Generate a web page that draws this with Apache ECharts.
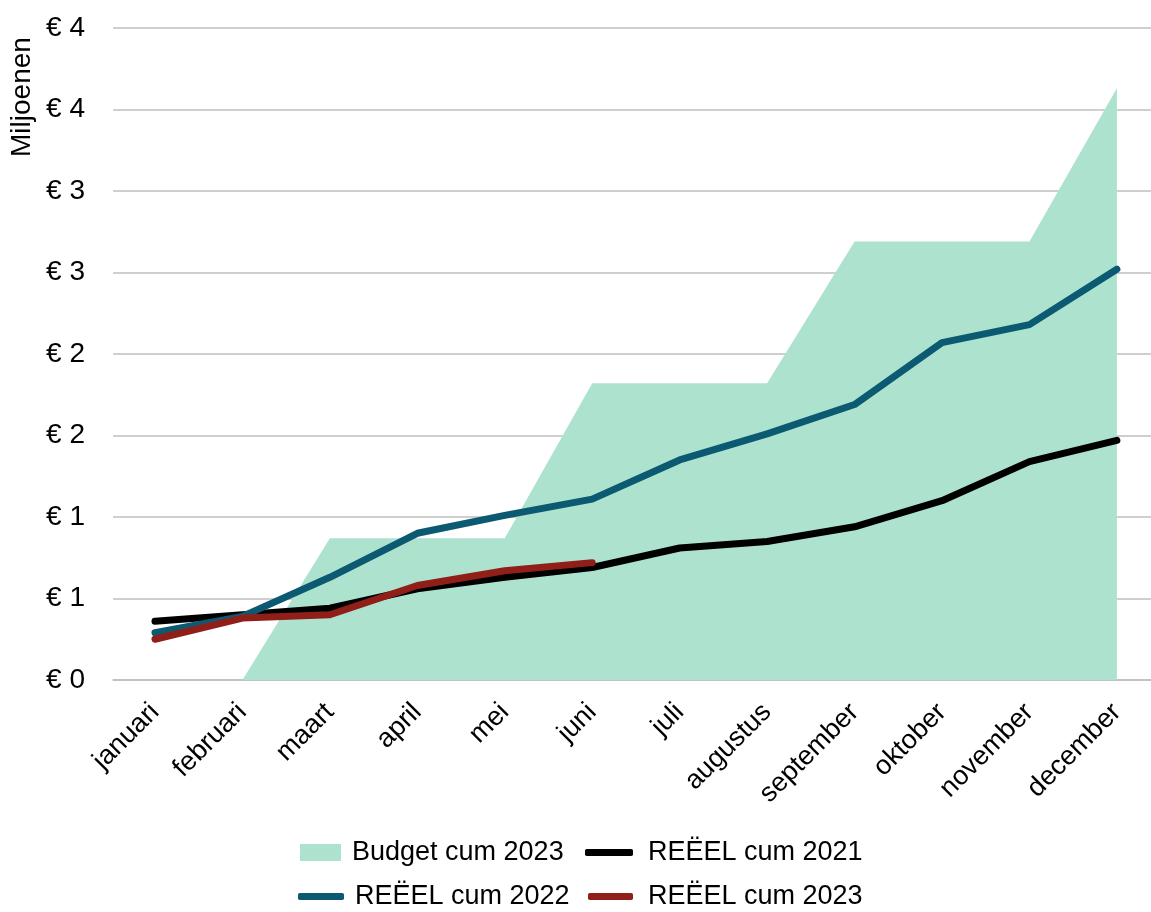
<!DOCTYPE html>
<html>
<head>
<meta charset="utf-8">
<script src="https://cdn.jsdelivr.net/npm/echarts@6/dist/echarts.min.js"></script>
<style>
html,body{margin:0;padding:0;background:#fff;}
#chart{width:1151px;height:912px;}
</style>
</head>
<body>
<div id="chart"></div>
<script>
const months = ['januari','februari','maart','april','mei','juni','juli','augustus','september','oktober','november','december'];
const budget2023 = [null, 0, 0.87, 0.87, 0.87, 1.82, 1.82, 1.82, 2.69, 2.69, 2.69, 3.63];
const reeel2021 = [0.36, 0.40, 0.44, 0.56, 0.63, 0.69, 0.81, 0.85, 0.94, 1.10, 1.34, 1.47];
const reeel2022 = [0.29, 0.39, 0.63, 0.90, 1.01, 1.11, 1.35, 1.51, 1.69, 2.07, 2.18, 2.52];
const reeel2023 = [0.25, 0.38, 0.40, 0.58, 0.67, 0.72];
const yTicks = [0, 0.5, 1, 1.5, 2, 2.5, 3, 3.5, 4];

const FONT = 'Liberation Sans';
const C_BUDGET = '#ADE2CF', C_2021 = '#000000', C_2022 = '#0B5A72', C_2023 = '#901F1A';
const toPairs = arr => arr.map((v, i) => [i, v]).filter(p => p[1] !== null && p[1] !== undefined);

const chart = echarts.init(document.getElementById('chart'));
const lineSeries = (name, data, color) => ({
  name, type: 'line', data: toPairs(data), symbol: 'none', smooth: false,
  lineStyle: {color, width: 7, cap: 'round', join: 'round'},
  itemStyle: {color}
});
const legendItem = (name, icon, left, top, w, h, pad) => ({
  data: [{name, icon}], left, top, itemWidth: w, itemHeight: h, padding: 0,
  textStyle: {fontSize: 27, color: '#000', fontFamily: FONT, padding: [0, 0, 0, pad]}
});
chart.setOption({
  animation: false,
  textStyle: {fontFamily: FONT},
  grid: {left: 113, right: 0, top: 28, bottom: 232, containLabel: false},
  xAxis: {
    type: 'value', min: -0.48, max: 11.39,
    splitLine: {show: false},
    axisLine: {show: true, onZero: false, lineStyle: {color: '#bfbfbf', width: 1.5}},
    axisTick: {show: false},
    axisLabel: {
      customValues: months.map((m, i) => i),
      rotate: 45, fontSize: 27, color: '#000', margin: 28, fontFamily: FONT,
      formatter: v => months[Math.round(v)] || ''
    }
  },
  yAxis: {
    type: 'value', min: yTicks[0], max: yTicks[yTicks.length - 1], interval: 0.5,
    axisLine: {show: false}, axisTick: {show: false},
    splitLine: {lineStyle: {color: '#bfbfbf', width: 1.5}},
    axisLabel: {fontSize: 28, color: '#000', margin: 28, fontFamily: FONT,
      formatter: v => '€ ' + Math.round(v)}
  },
  graphic: [{
    type: 'text', x: 8, y: 157, rotation: Math.PI / 2,
    style: {text: 'Miljoenen', fontSize: 28, fontFamily: FONT, fill: '#000', textVerticalAlign: 'top'}
  }],
  legend: [
    legendItem('Budget cum 2023', 'rect', 300, 839, 41, 17, 6),
    legendItem('REËEL cum 2021', 'roundRect', 585, 839, 48, 7, 10),
    legendItem('REËEL cum 2022', 'roundRect', 298, 883, 46, 7, 6),
    legendItem('REËEL cum 2023', 'roundRect', 588, 883, 45, 7, 10)
  ],
  series: [
    {
      name: 'Budget cum 2023', type: 'line', data: toPairs(budget2023), symbol: 'none',
      lineStyle: {width: 0, color: C_BUDGET},
      itemStyle: {color: C_BUDGET},
      areaStyle: {color: C_BUDGET, opacity: 1}
    },
    lineSeries('REËEL cum 2021', reeel2021, C_2021),
    lineSeries('REËEL cum 2022', reeel2022, C_2022),
    lineSeries('REËEL cum 2023', reeel2023, C_2023)
  ]
});
</script>
</body>
</html>
